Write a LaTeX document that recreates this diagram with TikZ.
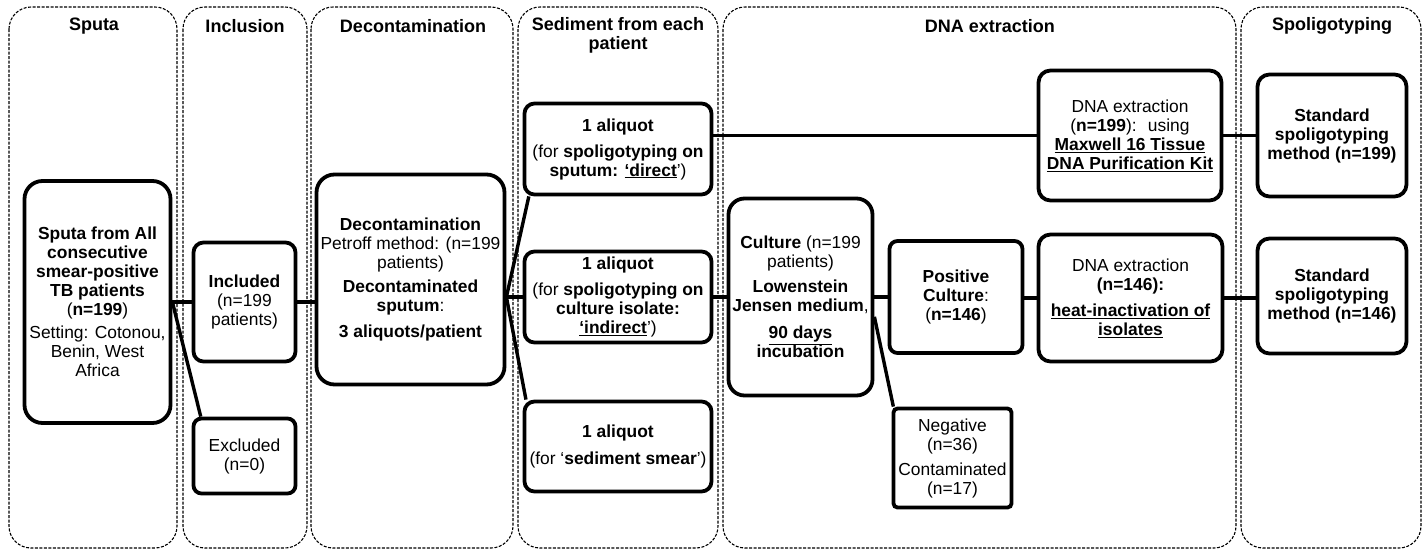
\documentclass[tikz,border=0pt]{standalone}
\usepackage{fontspec}
\setmainfont{Liberation Sans}
\usepackage{tikz}

\newcommand{\boxfont}{\fontsize{17.4}{19}\selectfont}
\newcommand{\lanefont}{\fontsize{18}{19}\selectfont\bfseries}

\begin{document}
\begin{tikzpicture}[x=1pt,y=-1pt,
    lane/.style={draw=black,dash pattern=on 3pt off 1.5pt,line width=1.1pt,rounded corners=22pt},
    title/.style={font=\lanefont,align=center},
    box/.style={shape=rectangle,draw=black,line width=3.8pt,rounded corners=10pt,align=center,inner sep=2pt,font=\boxfont},
    line/.style={draw=black,line width=3.4pt}]
                \useasboundingbox (0,0) rectangle (1425,550);

                % lanes
                \draw[lane] (9,7) rectangle (177,548);
                \draw[lane] (183,7) rectangle (307,548);
                \draw[lane] (311,7) rectangle (513,548);
                \draw[lane] (518,7) rectangle (718,548);
                \draw[lane] (723,7) rectangle (1236,548);
                \draw[lane] (1241,7) rectangle (1421,548);

                \node[title] (T1) at (94,26) {Sputa};
                \node[title] (T2) at (245,26) {Inclusion};
                \node[title] (T3) at (413,26) {Decontamination};
                \node[title] (T4) at (618,35) {Sediment from each\\patient};
                \node[title] (T5) at (990,26) {DNA extraction};
                \node[title] (T6) at (1332,26) {Spoligotyping};

                % boxes
                \node[box,rounded corners=18pt,minimum width=146pt,minimum height=242pt] (A) at (97.5,302) {\textbf{Sputa from All}\\\textbf{consecutive}\\\textbf{smear-positive}\\\textbf{TB patients}\\(\textbf{n=199})\\[4pt]Setting: Cotonou,\\Benin, West\\Africa};
                \node[box,minimum width=102pt,minimum height=119pt] (B) at (244.5,302) {\textbf{Included}\\(n=199\\patients)};
                \node[box,rounded corners=8pt,minimum width=102pt,minimum height=75pt] (C) at (244.5,456) {Excluded\\(n=0)};
                \node[box,rounded corners=18pt,minimum width=188pt,minimum height=210pt] (D) at (410.5,279.5) {\textbf{Decontamination}\\Petroff method: (n=199\\patients)\\[5pt]\textbf{Decontaminated}\\\textbf{sputum}:\\[7pt]\textbf{3 aliquots/patient}};
                \node[box,minimum width=187pt,minimum height=91pt] (E) at (618,149) {\textbf{1 aliquot}\\[7pt](for \textbf{spoligotyping on}\\\textbf{sputum: \underline{‘direct}}’)};
                \node[box,minimum width=187pt,minimum height=91pt] (F) at (618,297) {\textbf{1 aliquot}\\[7pt](for \textbf{spoligotyping on}\\\textbf{culture isolate:}\\\textbf{\underline{‘indirect}}’)};
                \node[box,minimum width=187pt,minimum height=90pt] (G) at (618,446.5) {\textbf{1 aliquot}\\[8pt](for ‘\textbf{sediment smear}’)};
                \node[box,rounded corners=16pt,minimum width=144pt,minimum height=197pt] (H) at (800.5,297) {\textbf{Culture} (n=199\\patients)\\[6pt]\textbf{Lowenstein}\\\textbf{Jensen medium},\\[8pt]\textbf{\underline{90 days}}\\\textbf{incubation}};
                \node[box,rounded corners=8pt,minimum width=133pt,minimum height=112pt] (I) at (956,297) {\textbf{Positive}\\\textbf{Culture}:\\(\textbf{n=146})};
                \node[box,rounded corners=4pt,minimum width=118pt,minimum height=99pt] (J) at (952.5,458) {Negative\\(n=36)\\[6pt]Contaminated\\(n=17)};
                \node[box,rounded corners=12pt,minimum width=183pt,minimum height=130pt] (K) at (1130,135.5) {DNA extraction\\(\textbf{n=199}):~ using\\\textbf{\underline{Maxwell 16 Tissue}}\\\textbf{\underline{DNA Purification Kit}}};
                \node[box,rounded corners=12pt,minimum width=184pt,minimum height=127pt] (L) at (1130.5,298) {DNA extraction\\\textbf{(n=146):}\\[7pt]\textbf{\underline{heat-inactivation of}}\\\textbf{\underline{isolates}}};
                \node[box,rounded corners=12pt,minimum width=149pt,minimum height=122pt] (M) at (1332,135.5) {\textbf{Standard}\\\textbf{spoligotyping}\\\textbf{method (n=199)}};
                \node[box,rounded corners=12pt,minimum width=149pt,minimum height=115pt] (N) at (1332,296) {\textbf{Standard}\\\textbf{spoligotyping}\\\textbf{method (n=146)}};

                % connectors
                \coordinate (P) at (D.east |- F.west);
                \path [line](A) edge (B);
                \draw [line](A.east) -- (C.138);
                \draw [line](B.east) -- (B.east -| D.west);
                \draw [line](P) -- (E.208);
                \draw [line](P) -- (F.west);
                \draw [line](P) -- (G.153);
                \draw [line](E.east |- K.west) -- (K.west);
                \path [line](F) edge (H);
                \path [line](H) edge (I);
                \draw [line](H.-15) -- (J.139);
                \draw [line](I.east |- L.west) -- (L.west);
                \path [line](K) edge (M);
                \draw [line](L.east) -- (L.east -| N.west);
            \end{tikzpicture}
\end{document}
